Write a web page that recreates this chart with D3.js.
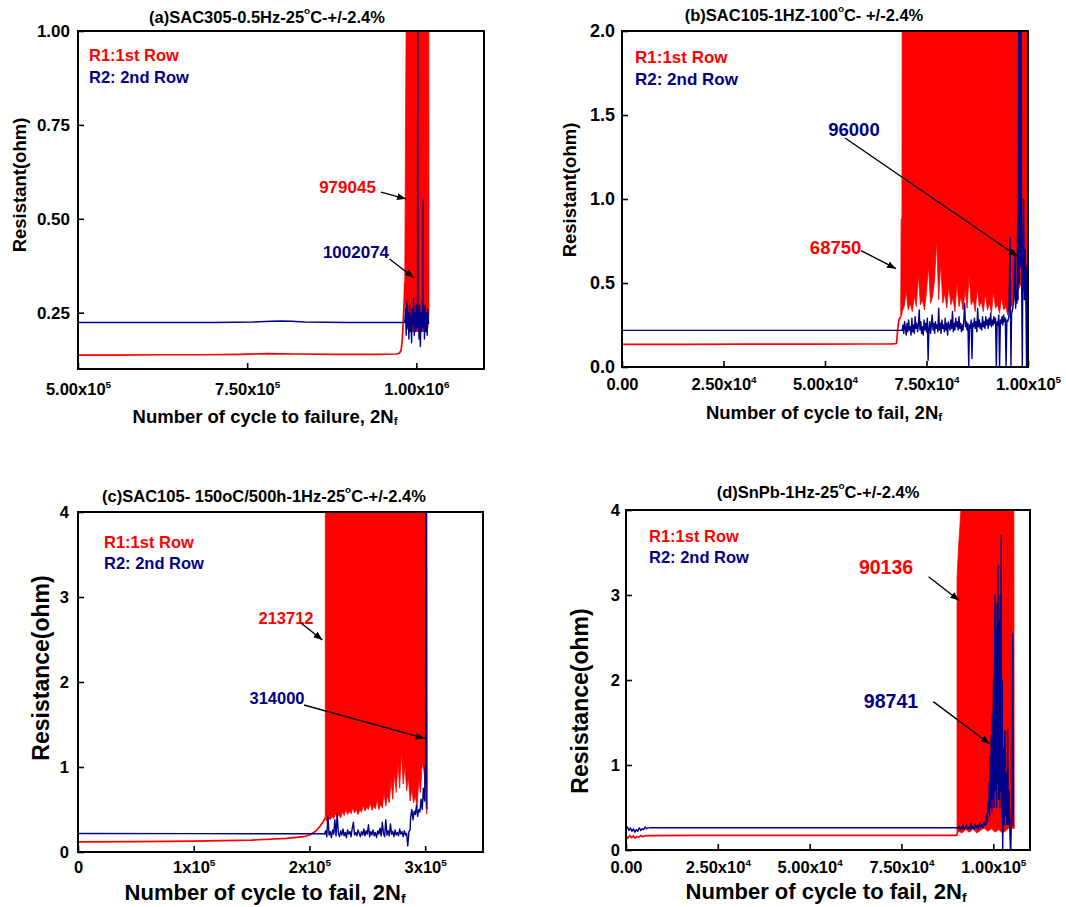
<!DOCTYPE html>
<html>
<head>
<meta charset="utf-8">
<script src="https://cdn.jsdelivr.net/npm/d3@7"></script>
<style>
  html, body { margin: 0; padding: 0; background: #fff; }
  svg { display: block; font-family: "Liberation Sans", Arial, Helvetica, sans-serif; font-weight: bold; }
</style>
</head>
<body>
<svg id="chart" width="1066" height="907"></svg>
<script>
// ---------------------------------------------------------------------------
// Resistance of solder-joint rows R1 / R2 versus number of cycles (2Nf)
// Pairs are [cycles, ohm]; band triples are [cycles, lower ohm, upper ohm].
// ---------------------------------------------------------------------------

// (a) SAC305 0.5 Hz 25°C
const aXTicks = [500000, 750000, 1000000];
const aXTickLabels = ["5.00x10^5", "7.50x10^5", "1.00x10^6"];
const aYTicks = [0.25, 0.50, 0.75, 1.00];
const aYTickLabels = ["0.25", "0.50", "0.75", "1.00"];
const aR1Line = [[500000,0.137],[560000,0.137],[620000,0.138],[680000,0.138],[740000,0.139],[780000,0.141],
  [820000,0.140],[880000,0.139],[940000,0.139],[970000,0.140],[975000,0.142],[977500,0.150],[979045,0.175],
  [980500,0.22],[982000,0.28],[983000,0.33]];
const aR1Band = [[983000,0.28,0.36],[984200,0.24,0.80],[985500,0.21,1.2],[990000,0.20,1.2],[1000000,0.20,1.2],
  [1010000,0.20,1.2],[1017000,0.21,1.2],[1018500,0.24,1.2],[1018700,0.26,0.27]];
const aR2Line = [[500000,0.224],[600000,0.224],[700000,0.224],[760000,0.225],[785000,0.227],[800000,0.228],
  [815000,0.227],[835000,0.225],[900000,0.224],[960000,0.224],[983000,0.224],
  [984000,0.26],[985000,0.19],[986000,0.28],[987000,0.21],[988000,0.25],[989000,0.18],[990000,0.27],[991000,0.20],
  [992000,0.24],[993000,0.17],[994000,0.26],[995000,0.22],[996000,0.29],[997000,0.19],[998000,0.25],[999000,0.20],
  [1000000,0.27],[1001000,0.21],[1001800,0.24],[1002074,1.2],[1002400,0.22],[1003000,0.26],[1004000,0.18],
  [1005000,0.27],[1006000,0.16],[1007000,0.25],[1008000,0.20],[1009000,0.28],[1009800,0.22],[1010100,0.55],
  [1010400,0.21],[1011000,0.26],[1012000,0.18],[1013000,0.27],[1014000,0.20],[1015000,0.25],[1016000,0.19],
  [1017000,0.26],[1018000,0.22]];

// (b) SAC105 1 Hz 100°C
const bXTicks = [0, 25000, 50000, 75000, 100000];
const bXTickLabels = ["0.00", "2.50x10^4", "5.00x10^4", "7.50x10^4", "1.00x10^5"];
const bYTicks = [0, 0.5, 1.0, 1.5, 2.0];
const bYTickLabels = ["0.0", "0.5", "1.0", "1.5", "2.0"];
const bR1Line = [[0,0.135],[15000,0.135],[30000,0.136],[45000,0.136],[60000,0.137],[66500,0.138],[67600,0.140],
  [67900,0.22],[68200,0.28],[68650,0.30]];
const bR1BandHead = [[68650,0.30,0.31],[68750,0.30,0.88],[68950,0.31,0.88]];
const bR1BandTop = 2.1;            // oscillation runs off the top of the scale
const bR1BandStart = 69000, bR1BandStep = 500;
const bR1BandLow = [0.33,0.36,0.45,0.34,0.38,0.33,0.42,0.36,0.55,0.37,0.40,0.34,0.45,0.60,0.38,0.42,0.52,0.76,
  0.40,0.62,0.38,0.44,0.35,0.48,0.37,0.41,0.33,0.50,0.36,0.42,0.34,0.46,0.35,0.55,0.37,0.40,0.33,0.47,0.36,0.39,
  0.33,0.44,0.34,0.38,0.32,0.45,0.35,0.37,0.32,0.42,0.34,0.36,0.31,0.38,0.36,0.40,0.42,0.45,0.48,0.50,0.45,0.40,0.40];
const bR2Base = [[0,0.218],[30000,0.218],[60000,0.218],[69000,0.218]];
const bR2NoiseStart = 69000, bR2NoiseStep = 200;
const bR2Noise = [
  0.22,0.25,0.20,0.27,0.23,0.19,0.26,0.21,0.28,0.22,
  0.24,0.19,0.29,0.21,0.25,0.20,0.30,0.23,0.26,0.21,
  0.25,0.34,0.22,0.27,0.20,0.24,0.19,0.28,0.22,0.26,
  0.21,0.29,0.04,0.23,0.27,0.20,0.25,0.31,0.22,0.26,
  0.20,0.27,0.23,0.25,0.21,0.35,0.22,0.26,0.20,0.28,
  0.23,0.25,0.21,0.29,0.22,0.26,0.19,0.27,0.24,0.22,
  0.28,0.23,0.33,0.21,0.26,0.22,0.29,0.24,0.27,0.22,
  0.30,0.23,0.26,0.21,0.25,0.22,0.28,0.38,0.24,0.27,
  0.22,0.26,0.00,0.25,0.23,0.28,0.05,0.26,0.24,0.29,
  0.23,0.27,0.21,0.35,0.24,0.28,0.23,0.26,0.22,0.30,
  0.24,0.27,0.23,0.30,0.25,0.28,0.23,0.29,0.25,0.32,
  0.24,0.28,0.25,0.30,0.26,0.29,0.00,0.27,0.25,0.31,
  0.00,0.28,0.26,0.30,0.25,0.31,0.27,0.29,0.00,0.28];
const bR2Tail = [[95000,0.27],[95300,0.30],[95600,0.77],[95700,0.30],[95800,0.00],[95950,0.32],[96200,0.34],
  [96500,0.40],[96800,0.68],[96950,0.35],[97150,0.45],[97300,0.38],[97450,0.90],[97550,0.40],[97700,2.1],
  [97850,0.50],[98000,2.1],[98150,0.60],[98300,2.1],[98450,0.45],[98600,0.00],[98700,0.50],[98900,1.00],
  [99100,0.40],[99300,0.70],[99500,0.35],[99650,0.00],[99750,0.60],[99900,0.40],[100000,0.45]];

// (c) SAC105 aged 150°C/500h, 1 Hz 25°C
const cXTicks = [0, 100000, 200000, 300000];
const cXTickLabels = ["0", "1x10^5", "2x10^5", "3x10^5"];
const cYTicks = [0, 1, 2, 3, 4];
const cYTickLabels = ["0", "1", "2", "3", "4"];
const cR1Line = [[0,0.120],[50000,0.122],[100000,0.128],[150000,0.140],[180000,0.160],[195000,0.180],
  [200000,0.200],[205000,0.240],[209000,0.300],[212000,0.360],[213712,0.400]];
const cR1BandHead = [[213712,0.40,4.2]];
const cR1BandTop = 4.2;
const cR1BandStart = 215000, cR1BandStep = 1500;
const cR1BandLow = [0.36,0.40,0.38,0.42,0.39,0.45,0.41,0.44,0.40,0.47,0.43,0.50,0.44,0.48,0.45,0.52,0.46,0.50,
  0.44,0.49,0.47,0.55,0.48,0.53,0.50,0.58,0.49,0.54,0.51,0.62,0.50,0.56,0.52,0.70,0.54,0.66,0.58,0.85,0.62,0.92,
  0.70,1.05,0.75,1.18,0.80,1.02,0.72,0.88,0.60,0.74,0.58,0.66,0.52,0.85,0.70,1.05,0.95,0.60];
const cR1BandTail = [[301300,0.45,4.2],[301400,0.45,0.46]];
const cR2Base = [[0,0.218],[100000,0.216],[200000,0.215],[212000,0.214]];
const cR2NoiseStart = 213000, cR2NoiseStep = 1000;
const cR2Noise = [0.21,0.25,0.18,0.42,0.20,0.24,0.17,0.26,0.21,0.38,0.19,0.45,0.22,0.18,0.25,0.20,0.27,0.19,0.23,0.17,
  0.26,0.21,0.24,0.18,0.28,0.35,0.20,0.23,0.19,0.26,0.22,0.18,0.24,0.20,0.27,0.19,0.25,0.21,0.32,0.18,
  0.24,0.20,0.26,0.19,0.23,0.17,0.25,0.21,0.28,0.19,0.35,0.22,0.18,0.38,0.20,0.25,0.19,0.33,0.21,0.24,
  0.18,0.26,0.20,0.23,0.19,0.27,0.21,0.24,0.18,0.25,0.20,0.22,0.07,0.24,0.26];
const cR2Tail = [[287500,0.42],[288500,0.50],[289500,0.38],[290500,0.48],[291500,0.44],[292500,0.55],
  [293500,0.42],[294500,0.50],[295500,0.47],[296500,0.62],[297500,0.50],[298500,0.75],[299500,0.60],
  [300000,1.00],[300500,0.80],[300800,4.2],[301200,4.2],[301500,0.50]];

// (d) SnPb 1 Hz 25°C
const dXTicks = [0, 25000, 50000, 75000, 100000];
const dXTickLabels = ["0.00", "2.50x10^4", "5.00x10^4", "7.50x10^4", "1.00x10^5"];
const dYTicks = [0, 1, 2, 3, 4];
const dYTickLabels = ["0", "1", "2", "3", "4"];
const dR1Line = [[0,0.160],[500,0.140],[1000,0.170],[1500,0.145],[2000,0.165],[2500,0.140],[3000,0.160],
  [3500,0.150],[4000,0.170],[4500,0.155],[5000,0.165],[6000,0.170],[20000,0.171],[50000,0.171],[80000,0.171],
  [90000,0.171],[90136,0.190]];
const dR1Band = [[90136,0.18,3.2],[90600,0.22,3.6],[91500,0.20,4.2],[92500,0.24,4.2],[93500,0.21,4.2],
  [94500,0.25,4.2],[95500,0.20,4.2],[96500,0.23,4.2],[97500,0.26,4.2],[98500,0.22,4.2],[99500,0.25,4.2],
  [100500,0.21,4.2],[101500,0.24,4.2],[102500,0.20,4.2],[103500,0.23,4.2],[104500,0.27,4.2],[105600,0.25,4.2],
  [105700,0.25,0.26]];
const dR2Line = [[0,0.25],[400,0.27],[800,0.23],[1200,0.26],[1600,0.22],[2000,0.25],[2400,0.21],[2800,0.24],
  [3200,0.22],[3600,0.26],[4000,0.23],[4400,0.25],[4800,0.24],[5200,0.27],[5600,0.25],[6000,0.26],[7000,0.262],
  [40000,0.262],[90000,0.262],
  [90300,0.25],[90600,0.28],[90900,0.24],[91200,0.27],[91500,0.25],[91800,0.29],[92100,0.24],[92400,0.26],
  [92700,0.30],[93000,0.25],[93300,0.27],[93600,0.24],[93900,0.31],[94200,0.25],[94500,0.28],[94800,0.24],
  [95100,0.30],[95400,0.26],[95700,0.29],[96000,0.25],[96300,0.32],[96600,0.27],[96900,0.30],[97200,0.26],
  [97500,0.33],[97800,0.29],
  [98000,0.30],[98200,0.42],[98400,0.33],[98600,0.55],[98741,0.45],[98900,0.80],[99000,0.40],[99150,1.10],
  [99300,0.50],[99450,1.35],[99600,0.45],[99750,1.60],[99900,0.60],[100050,2.00],[100200,0.50],[100350,2.40],
  [100470,3.00],[100600,0.70],[100750,2.60],[100900,0.50],[101050,2.90],[101200,0.80],[101300,3.35],
  [101450,0.60],[101600,2.70],[101750,0.50],[101900,3.00],[102050,0.70],[102150,3.70],[102300,0.40],
  [102450,2.00],[102560,-0.10],[102700,0.60],[102850,1.20],[103000,0.30],[103150,1.40],[103300,0.40],
  [103500,0.90],[103700,0.30],[103900,1.43],[104100,0.30],[104300,0.70],[104500,0.25],[104740,-0.10],
  [104900,0.30],[105100,0.50],[105300,2.55],[105450,0.30],[105600,0.28]];

// ---------------------------------------------------------------------------
const RED = "#ff0000";
const BLUE = "#000088";

// evenly sampled readings -> [cycles, ohm]
const sampled = (start, step, values) => values.map((v, i) => [start + i * step, v]);

const bR1Band = bR1BandHead.concat(sampled(bR1BandStart, bR1BandStep, bR1BandLow).map(d => [d[0], d[1], bR1BandTop]));
const bR2Line = bR2Base.concat(sampled(bR2NoiseStart, bR2NoiseStep, bR2Noise), bR2Tail);
const cR1Band = cR1BandHead.concat(sampled(cR1BandStart, cR1BandStep, cR1BandLow).map(d => [d[0], d[1], cR1BandTop]), cR1BandTail);
const cR2Line = cR2Base.concat(sampled(cR2NoiseStart, cR2NoiseStep, cR2Noise), cR2Tail);

const panels = [
  {
    key: "a", frame: { x: 78, y: 31, w: 406, h: 338 },
    xDomain: [500000, 1100000], yDomain: [0.1, 1.0],
    xTicks: aXTicks, xTickLabels: aXTickLabels, yTicks: aYTicks, yTickLabels: aYTickLabels,
    xTickFont: 16.5, yTickFont: 17, xPad: 14, yPad: 8,
    title: "(a)SAC305-0.5Hz-25^oC-+/-2.4%", titlePos: [267, 17], titleFont: 16.5,
    legendPos: [89, 55, 77], legendFont: 16.5,
    xTitle: "Number of cycle to failure, 2N_f", xTitlePos: [265, 416], xTitleFont: 18.5,
    yTitle: "Resistant(ohm)", yTitlePos: [19, 185], yTitleFont: 18.5,
    r1Line: aR1Line, r1Band: aR1Band, r2Line: aR2Line,
    noteFont: 17,
    notes: [
      { text: "979045", color: RED, at: [898300, 0.585], from: [947800, 0.571], to: [984700, 0.553] },
      { text: "1002074", color: BLUE, at: [910800, 0.4115], from: [960300, 0.393], to: [996550, 0.343] }
    ]
  },
  {
    key: "b", frame: { x: 622, y: 31, w: 406, h: 336 },
    xDomain: [0, 100000], yDomain: [0, 2],
    xTicks: bXTicks, xTickLabels: bXTickLabels, yTicks: bYTicks, yTickLabels: bYTickLabels,
    xTickFont: 16.5, yTickFont: 18, xPad: 11, yPad: 7,
    title: "(b)SAC105-1HZ-100^oC- +/-2.4%", titlePos: [804, 15], titleFont: 16.5,
    legendPos: [635, 57, 79], legendFont: 17,
    xTitle: "Number of cycle to fail, 2N_f", xTitlePos: [824, 412], xTitleFont: 18.5,
    yTitle: "Resistant(ohm)", yTitlePos: [569, 190], yTitleFont: 18.5,
    r1Line: bR1Line, r1Band: bR1Band, r2Line: bR2Line,
    noteFont: 18.5,
    notes: [
      { text: "68750", color: RED, at: [52610, 0.714], from: [58870, 0.693], to: [67490, 0.585] },
      { text: "96000", color: BLUE, at: [57140, 1.417], from: [54930, 1.363], to: [97490, 0.658] }
    ]
  },
  {
    key: "c", frame: { x: 78, y: 512, w: 405, h: 340 },
    xDomain: [0, 350000], yDomain: [0, 4],
    xTicks: cXTicks, xTickLabels: cXTickLabels, yTicks: cYTicks, yTickLabels: cYTickLabels,
    xTickFont: 16.5, yTickFont: 16.5, xPad: 9, yPad: 9,
    title: "(c)SAC105- 150oC/500h-1Hz-25^oC-+/-2.4%", titlePos: [264, 496], titleFont: 16.5,
    legendPos: [104, 542, 563], legendFont: 16.5,
    xTitle: "Number of cycle to fail, 2N_f", xTitlePos: [265, 892], xTitleFont: 22,
    yTitle: "Resistance(ohm)", yTitlePos: [41, 668], yTitleFont: 23,
    r1Line: cR1Line, r1Band: cR1Band, r2Line: cR2Line,
    noteFont: 16.5,
    notes: [
      { text: "213712", color: RED, at: [179750, 2.753], from: [192720, 2.694], to: [211210, 2.494] },
      { text: "314000", color: BLUE, at: [171980, 1.812], from: [195310, 1.729], to: [299700, 1.336] }
    ]
  },
  {
    key: "d", frame: { x: 626, y: 510, w: 404, h: 340 },
    xDomain: [0, 110000], yDomain: [0, 4],
    xTicks: dXTicks, xTickLabels: dXTickLabels, yTicks: dYTicks, yTickLabels: dYTickLabels,
    xTickFont: 16.5, yTickFont: 16.5, xPad: 11, yPad: 6,
    title: "(d)SnPb-1Hz-25^oC-+/-2.4%", titlePos: [818, 492], titleFont: 16.5,
    legendPos: [649, 536, 557], legendFont: 16.5,
    xTitle: "Number of cycle to fail, 2N_f", xTitlePos: [826, 891], xTitleFont: 22,
    yTitle: "Resistance(ohm)", yTitlePos: [580, 701], yTitleFont: 23,
    r1Line: dR1Line, r1Band: dR1Band, r2Line: dR2Line,
    noteFont: 19.5,
    notes: [
      { text: "90136", color: RED, at: [70790, 3.329], from: [82390, 3.215], to: [90720, 2.935] },
      { text: "98741", color: BLUE, at: [72150, 1.753], from: [83670, 1.746], to: [99050, 1.247] }
    ]
  }
];

// ---------------------------------------------------------------------------
const svg = d3.select("#chart");
const defs = svg.append("defs");
defs.append("marker")
  .attr("id", "arrowhead")
  .attr("markerUnits", "userSpaceOnUse")
  .attr("markerWidth", 10).attr("markerHeight", 8)
  .attr("refX", 9).attr("refY", 3.5)
  .attr("orient", "auto")
  .append("path").attr("d", "M0,0 L9,3.5 L0,7 Z").attr("fill", "#000");

// "^x" -> superscript character, "_x" -> subscript character
function richText(t, str, size) {
  const parts = str.split(/([\^_].)/).filter(s => s.length);
  let shift = 0;
  t.text(null);
  parts.forEach(s => {
    let target = 0, txt = s, fs = null;
    if (s.length === 2 && s[0] === "^") { target = -0.42 * size; txt = s[1]; fs = size * 0.6; }
    else if (s.length === 2 && s[0] === "_") { target = 0.25 * size; txt = s[1]; fs = size * 0.62; }
    const ts = t.append("tspan").text(txt);
    if (fs) ts.attr("font-size", fs);
    if (target !== shift) { ts.attr("dy", target - shift); shift = target; }
  });
}

function label(g, str, x, y, size, color, anchor, rotate) {
  const t = g.append("text")
    .attr("x", x).attr("y", y)
    .attr("font-size", size)
    .attr("fill", color || "#000")
    .attr("text-anchor", anchor || "middle")
    .attr("dominant-baseline", "central");
  if (rotate) t.attr("transform", `rotate(-90,${x},${y})`);
  richText(t, str, size);
  return t;
}

panels.forEach(p => {
  const { x: fx, y: fy, w: fw, h: fh } = p.frame;
  const x = d3.scaleLinear().domain(p.xDomain).range([fx, fx + fw]);
  const y = d3.scaleLinear().domain(p.yDomain).range([fy + fh, fy]);
  const g = svg.append("g").attr("class", "panel-" + p.key);

  defs.append("clipPath").attr("id", "clip-" + p.key)
    .append("rect").attr("x", fx).attr("y", fy).attr("width", fw).attr("height", fh);
  const plot = g.append("g").attr("clip-path", `url(#clip-${p.key})`);

  const line = d3.line().x(d => x(d[0])).y(d => y(d[1]));
  const band = d3.area().x(d => x(d[0])).y0(d => y(d[1])).y1(d => y(d[2]));

  // R1: 1st row
  plot.append("path").datum(p.r1Line).attr("d", line)
    .attr("fill", "none").attr("stroke", RED).attr("stroke-width", 1.7).attr("stroke-linejoin", "round");
  plot.append("path").datum(p.r1Band).attr("d", band)
    .attr("fill", RED).attr("stroke", RED).attr("stroke-width", 0.8).attr("stroke-linejoin", "round");
  // R2: 2nd row
  plot.append("path").datum(p.r2Line).attr("d", line)
    .attr("fill", "none").attr("stroke", BLUE).attr("stroke-width", 1.4).attr("stroke-linejoin", "round");

  // axes with inward ticks
  const xAxis = d3.axisBottom(x).tickValues(p.xTicks).tickSize(-6).tickPadding(p.xPad)
    .tickFormat(d => p.xTickLabels[p.xTicks.indexOf(d)]);
  const yAxis = d3.axisLeft(y).tickValues(p.yTicks).tickSize(-6).tickPadding(p.yPad)
    .tickFormat(d => p.yTickLabels[p.yTicks.indexOf(d)]);

  const gx = g.append("g").attr("transform", `translate(0,${fy + fh})`).call(xAxis);
  const gy = g.append("g").attr("transform", `translate(${fx},0)`).call(yAxis);
  [gx, gy].forEach(ax => {
    ax.attr("font-size", null).attr("font-family", null);
    ax.select(".domain").remove();
    ax.selectAll(".tick line").attr("stroke", "#000").attr("stroke-width", 1.6);
    ax.selectAll(".tick text").attr("fill", "#000");
  });
  gx.selectAll(".tick text").attr("font-size", p.xTickFont).each(function () {
    const t = d3.select(this);
    richText(t, t.text(), p.xTickFont);
  });
  gy.selectAll(".tick text").attr("font-size", p.yTickFont);

  // frame
  g.append("rect").attr("x", fx).attr("y", fy).attr("width", fw).attr("height", fh)
    .attr("fill", "none").attr("stroke", "#000").attr("stroke-width", 2);

  // titles
  label(g, p.title, p.titlePos[0], p.titlePos[1], p.titleFont, "#000");
  label(g, p.xTitle, p.xTitlePos[0], p.xTitlePos[1], p.xTitleFont, "#000");
  label(g, p.yTitle, p.yTitlePos[0], p.yTitlePos[1], p.yTitleFont, "#000", "middle", true);

  // legend
  label(g, "R1:1st Row", p.legendPos[0], p.legendPos[1], p.legendFont, RED, "start");
  label(g, "R2: 2nd Row", p.legendPos[0], p.legendPos[2], p.legendFont, BLUE, "start");

  // failure annotations
  p.notes.forEach(n => {
    label(g, n.text, x(n.at[0]), y(n.at[1]), p.noteFont, n.color);
    g.append("line")
      .attr("x1", x(n.from[0])).attr("y1", y(n.from[1]))
      .attr("x2", x(n.to[0])).attr("y2", y(n.to[1]))
      .attr("stroke", "#000").attr("stroke-width", 1.4)
      .attr("marker-end", "url(#arrowhead)");
  });
});
</script>
</body>
</html>
